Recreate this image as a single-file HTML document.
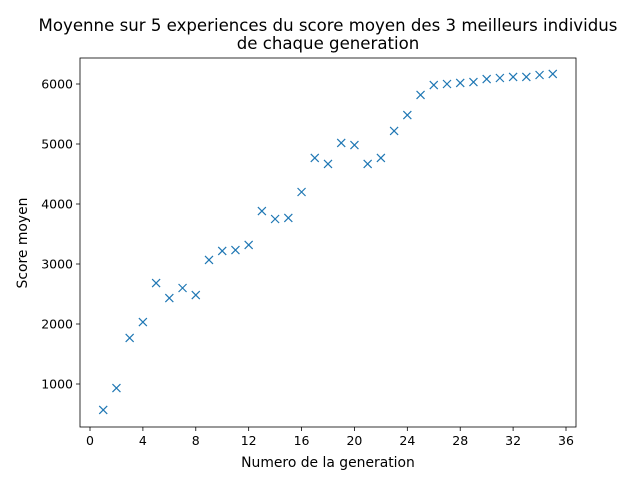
<!DOCTYPE html>
<html><head><meta charset="utf-8"><style>body{margin:0;background:#fff}svg{display:block;font-family:"DejaVu Sans","Liberation Sans",sans-serif}</style></head>
<body>
<svg id="chart" width="640" height="480">
<text x="328" y="31" font-size="16.6" text-anchor="middle">Moyenne sur 5 experiences du score moyen des 3 meilleurs individus</text>
<text x="328" y="49" font-size="16.6" text-anchor="middle">de chaque generation</text>
<g id="plot"></g>
<text x="328" y="467" font-size="13.9" text-anchor="middle">Numero de la generation</text>
<text transform="translate(27,243) rotate(-90)" font-size="13.9" text-anchor="middle">Score moyen</text>
</svg>
<script>
const generations=[1,2,3,4,5,6,7,8,9,10,11,12,13,14,15,16,17,18,19,20,21,22,23,24,25,26,27,28,29,30,31,32,33,34,35];
const scores=[567,933,1767,2033,2683,2433,2600,2483,3067,3217,3233,3317,3883,3750,3767,4200,4767,4667,5017,4983,4667,4767,5217,5483,5817,5983,6000,6017,6033,6083,6100,6117,6117,6150,6167];
const xTicks=[0,4,8,12,16,20,24,28,32,36];
const yTicks=[1000,2000,3000,4000,5000,6000];
const L=80,R=576,T=58,B=427;
const x=v=>90+v*(476/36);
const y=v=>384-(v-1000)*0.06;
const ns='http://www.w3.org/2000/svg';
const g=document.getElementById('plot');
function mk(t,a){const e=document.createElementNS(ns,t);for(const k in a)e.setAttribute(k,a[k]);g.appendChild(e);return e;}
xTicks.forEach(v=>{
 const l=mk('line',{x1:x(v),x2:x(v),y1:B,y2:B+4,stroke:'#000','stroke-width':0.8});
 
 
 const t=mk('text',{x:x(v),y:B+18,'font-size':12.5,'text-anchor':'middle'});t.textContent=v;
 
 
});
yTicks.forEach(v=>{
 const l=mk('line',{x1:L-4,x2:L,y1:y(v),y2:y(v),stroke:'#000','stroke-width':0.8});
 
 
 const t=mk('text',{x:L-7,y:y(v)+4.5,'font-size':12.5,'text-anchor':'end'});t.textContent=v;
 
 
});
generations.forEach((gv,i)=>{
 const cx=x(gv),cy=y(scores[i]),s=4;
 const p=mk('path',{d:`M${cx-s},${cy-s}L${cx+s},${cy+s}M${cx-s},${cy+s}L${cx+s},${cy-s}`,stroke:'#1f77b4','stroke-width':1.2,fill:'none'});
 
 
});
const f=mk('rect',{x:L,y:T,width:R-L,height:B-T,fill:'none',stroke:'#000','stroke-width':0.8});


</script>
</body></html>
